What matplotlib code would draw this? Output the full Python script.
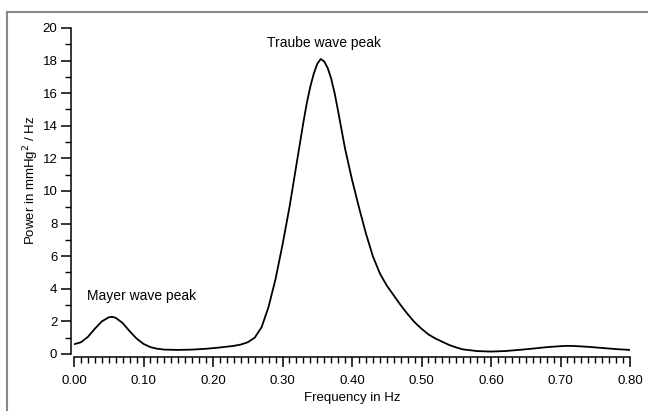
import matplotlib
matplotlib.use("Agg")
import matplotlib.pyplot as plt
from matplotlib.ticker import MultipleLocator, FormatStrFormatter
from matplotlib.lines import Line2D

freq = [0.000, 0.010, 0.020, 0.030, 0.040, 0.050, 0.055, 0.060, 0.070, 0.080,
        0.090, 0.100, 0.110, 0.120, 0.130, 0.150, 0.170, 0.190, 0.210, 0.230,
        0.240, 0.250, 0.260, 0.270, 0.280, 0.290, 0.300, 0.310, 0.320, 0.330,
        0.335, 0.340, 0.345, 0.350, 0.355, 0.360, 0.365, 0.370, 0.375, 0.380,
        0.390, 0.400, 0.410, 0.420,
        0.430, 0.440, 0.450, 0.460, 0.470, 0.480, 0.490, 0.500, 0.510, 0.520,
        0.530, 0.540, 0.550, 0.560, 0.580, 0.600, 0.620, 0.640, 0.660, 0.680,
        0.700, 0.710, 0.720, 0.740, 0.760, 0.780, 0.800]
power = [0.60, 0.72, 1.05, 1.55, 2.00, 2.25, 2.28, 2.22, 1.90, 1.40,
         0.95, 0.62, 0.42, 0.32, 0.27, 0.25, 0.27, 0.32, 0.40, 0.50,
         0.58, 0.72, 1.00, 1.65, 2.90, 4.60, 6.70, 9.00, 11.60, 14.20,
         15.40, 16.40, 17.20, 17.80, 18.10, 17.95, 17.55, 16.90, 16.00, 14.90,
         12.60, 10.70, 9.00, 7.40,
         6.00, 4.95, 4.20, 3.60, 3.00, 2.45, 1.95, 1.55, 1.20, 0.95,
         0.75, 0.55, 0.40, 0.28, 0.18, 0.15, 0.18, 0.25, 0.33, 0.42,
         0.48, 0.50, 0.49, 0.44, 0.37, 0.30, 0.25]

annotations = ["Mayer wave peak", "Traube wave peak"]
ann_x = [0.019, 0.278]
ann_y = [3.56, 19.08]

plt.rcParams['font.family'] = ['Liberation Sans', 'DejaVu Sans']
plt.rcParams['font.size'] = 9.5

fig = plt.figure(figsize=(6.48, 4.11), dpi=100)
ax = fig.add_axes([74/648, 1-354/411, (630-74)/648, (354-28)/411])

ax.plot(freq, power, color='black', lw=1.3, solid_joinstyle='round')
ax.set_xlim(0, 0.8)
ax.set_ylim(0, 20)

for s in ['top', 'right']:
    ax.spines[s].set_visible(False)
ax.spines['left'].set_position(('outward', 2))
ax.spines['bottom'].set_position(('outward', 2))
ax.spines['left'].set_linewidth(1.1)
ax.spines['bottom'].set_linewidth(1.1)

ax.xaxis.set_major_locator(MultipleLocator(0.1))
ax.xaxis.set_minor_locator(MultipleLocator(0.01))
ax.xaxis.set_major_formatter(FormatStrFormatter('%.2f'))
ax.yaxis.set_major_locator(MultipleLocator(2))
ax.yaxis.set_minor_locator(MultipleLocator(1))

ax.tick_params(axis='x', which='major', direction='out', length=7, width=1.1, pad=6)
ax.tick_params(axis='x', which='minor', direction='out', length=4, width=1.0)
ax.tick_params(axis='y', which='major', direction='out', length=7, width=1.1, pad=3)
ax.tick_params(axis='y', which='minor', direction='out', length=4, width=1.0)

ax.set_xlabel('Frequency in Hz', labelpad=4)
ax.set_ylabel('Power in mmHg$^2$ / Hz', fontsize=9.5)
ax.yaxis.set_label_coords((41 - 74) / (630 - 74), (354 - 180) / (354 - 28))

for t, xx, yy in zip(annotations, ann_x, ann_y):
    ax.text(xx, yy, t, ha='left', va='center', fontsize=10)

# figure frame (top and left grey lines)
fig.add_artist(Line2D([7/648, 1], [1-12/411, 1-12/411], transform=fig.transFigure,
                      color='#888888', lw=1.5))
fig.add_artist(Line2D([7/648, 7/648], [0, 1-12/411], transform=fig.transFigure,
                      color='#888888', lw=1.5))

fig.savefig('out.png', dpi=100)
